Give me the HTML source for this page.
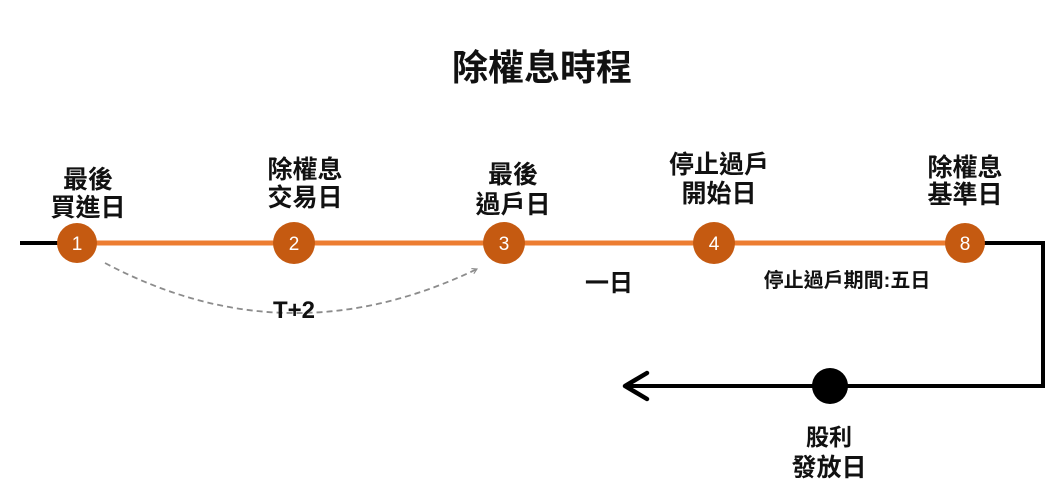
<!DOCTYPE html>
<html>
<head>
<meta charset="utf-8">
<style>
  html, body { margin:0; padding:0; background:#ffffff; }
  body { width:1057px; height:483px; overflow:hidden; }
  svg { display:block; }
  .lbl { font-family:"Liberation Sans","Noto Sans CJK TC","Noto Sans CJK SC",sans-serif; font-weight:bold; fill:#111; }
  .num { font-family:"Liberation Sans",sans-serif; fill:#ffffff; font-size:19px; }
</style>
</head>
<body>
<svg width="1057" height="483" viewBox="0 0 1057 483" xmlns="http://www.w3.org/2000/svg">
  <defs>
    <marker id="ah" viewBox="0 0 10 10" refX="8" refY="5" markerWidth="7" markerHeight="7" orient="auto" markerUnits="userSpaceOnUse">
      <path d="M1,1 L8,5 L1,9" fill="none" stroke="#8c8c8c" stroke-width="1.6"/>
    </marker>
  </defs>

  <!-- Title -->
  <text class="lbl" x="542" y="80" font-size="36" text-anchor="middle">除權息時程</text>

  <!-- black start segment -->
  <line x1="20" y1="243" x2="60" y2="243" stroke="#000" stroke-width="4"/>
  <!-- orange timeline -->
  <line x1="76" y1="243" x2="965" y2="243" stroke="#ED7D31" stroke-width="5"/>
  <!-- black right path with arrow -->
  <polyline points="982,243 1043,243 1043,386 626,386" fill="none" stroke="#000" stroke-width="4"/>
  <polyline points="647,373 625,386 647,399" fill="none" stroke="#000" stroke-width="4.5" stroke-linecap="round" stroke-linejoin="round"/>
  <circle cx="830" cy="386" r="18" fill="#000"/>

  <!-- dashed curve -->
  <path d="M105,263 Q288,360 477,269" fill="none" stroke="#8c8c8c" stroke-width="1.8" stroke-dasharray="6,4" marker-end="url(#ah)"/>

  <!-- circles -->
  <circle cx="77" cy="243" r="20" fill="#C55A11"/>
  <text class="num" x="77" y="250" text-anchor="middle">1</text>
  <circle cx="294" cy="243" r="21" fill="#C55A11"/>
  <text class="num" x="294" y="250" text-anchor="middle">2</text>
  <circle cx="504" cy="243" r="21" fill="#C55A11"/>
  <text class="num" x="504" y="250" text-anchor="middle">3</text>
  <circle cx="714" cy="243" r="21" fill="#C55A11"/>
  <text class="num" x="714" y="250" text-anchor="middle">4</text>
  <circle cx="965" cy="243" r="20" fill="#C55A11"/>
  <text class="num" x="965" y="250" text-anchor="middle">8</text>

  <!-- top labels -->
  <text class="lbl" x="88" y="188" font-size="25" text-anchor="middle">最後</text>
  <text class="lbl" x="88" y="216" font-size="25" text-anchor="middle">買進日</text>

  <text class="lbl" x="305" y="178" font-size="25" text-anchor="middle">除權息</text>
  <text class="lbl" x="305" y="206" font-size="25" text-anchor="middle">交易日</text>

  <text class="lbl" x="513" y="183" font-size="25" text-anchor="middle">最後</text>
  <text class="lbl" x="513" y="213" font-size="25" text-anchor="middle">過戶日</text>

  <text class="lbl" x="719" y="173" font-size="25" text-anchor="middle">停止過戶</text>
  <text class="lbl" x="719" y="202" font-size="25" text-anchor="middle">開始日</text>

  <text class="lbl" x="965" y="176" font-size="25" text-anchor="middle">除權息</text>
  <text class="lbl" x="965" y="203" font-size="25" text-anchor="middle">基準日</text>

  <!-- mid labels -->
  <text class="lbl" x="609" y="291" font-size="24" text-anchor="middle">一日</text>
  <text class="lbl" x="847" y="287" font-size="20" text-anchor="middle">停止過戶期間:五日</text>
  <text class="lbl" x="294" y="318" font-size="24" text-anchor="middle">T+2</text>

  <!-- bottom label -->
  <text class="lbl" x="829" y="445" font-size="23" text-anchor="middle">股利</text>
  <text class="lbl" x="829" y="476" font-size="25" text-anchor="middle">發放日</text>
</svg>
</body>
</html>
